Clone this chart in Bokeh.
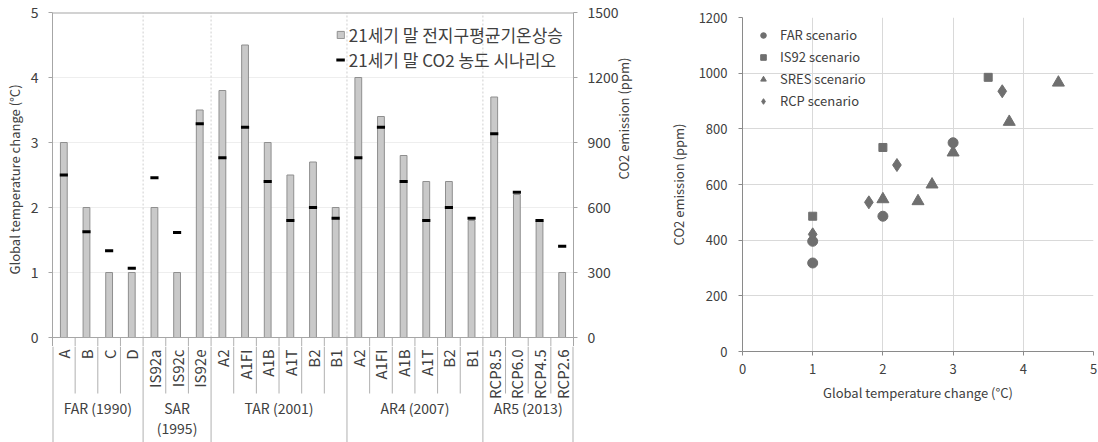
import math
from bokeh.plotting import figure
from bokeh.models import (FactorRange, Range1d, LinearAxis, FixedTicker, Legend,
                          LegendItem, Span, ColumnDataSource)
from bokeh.layouts import row, column
from bokeh.transform import dodge
from bokeh.core.properties import value
from bokeh.embed import file_html
from bokeh.resources import INLINE

# ---------------- data ----------------
group_keys = ["FAR", "SAR", "TAR", "AR4", "AR5"]
group_labels = ["FAR (1990)", "SAR\n(1995)", "TAR (2001)", "AR4 (2007)", "AR5 (2013)"]
scenarios = [
    ["A", "B", "C", "D"],
    ["IS92a", "IS92c", "IS92e"],
    ["A2", "A1FI", "A1B", "A1T", "B2", "B1"],
    ["A2", "A1FI", "A1B", "A1T", "B2", "B1"],
    ["RCP8.5", "RCP6.0", "RCP4.5", "RCP2.6"],
]
temp_rise = [
    [3.0, 2.0, 1.0, 1.0],
    [2.0, 1.0, 3.5],
    [3.8, 4.5, 3.0, 2.5, 2.7, 2.0],
    [4.0, 3.4, 2.8, 2.4, 2.4, 1.8],
    [3.7, 2.2, 1.8, 1.0],
]
co2_ppm = [
    [750, 488, 400, 320],
    [737, 485, 986],
    [830, 970, 720, 540, 600, 550],
    [830, 970, 720, 540, 600, 550],
    [940, 670, 540, 421],
]
legend_temp = "21세기 말 전지구평균기온상승"
legend_co2 = "21세기 말 CO2 농도 시나리오"
left_title = "Global temperature change (°C)"
right_title = "CO2 emission (ppm)"

temp_ticks = [0, 1, 2, 3, 4, 5]
co2_ticks = [0, 300, 600, 900, 1200, 1500]

far_temp = [1.0, 1.0, 2.0, 3.0]
far_co2 = [318, 396, 486, 750]
is92_temp = [1.0, 2.0, 3.5]
is92_co2 = [486, 733, 985]
sres_temp = [2.0, 2.5, 2.7, 3.0, 3.8, 4.5]
sres_co2 = [547, 540, 600, 715, 825, 966]
rcp_temp = [1.0, 1.8, 2.2, 3.7]
rcp_co2 = [421, 536, 670, 935]
scatter_x_ticks = [0, 1, 2, 3, 4, 5]
scatter_y_ticks = [0, 200, 400, 600, 800, 1000, 1200]

# ---------------- style ----------------
FONT = "Noto Sans CJK KR"
TEXT = "#404040"
AXIS = "#a6a6a6"
SEP = "#b0b0b0"


def no_align(p):
    try:
        p.frame_align = False
    except Exception:
        pass


# ---------------- left chart: bars ----------------
W1 = 660
BL, BR = 52, 87
TOP = 12
PX_PER_DEG = 65.0
OVER = 9            # px of the strip below 0 kept in the bar plot (room for the "0" labels)
H1_top = TOP + int(5 * PX_PER_DEG) + OVER
H1_bot = 442 - H1_top
y0_top = -OVER / PX_PER_DEG
CO2_PER_DEG = 300.0

factors = [(g, s) for g, ss in zip(group_keys, scenarios) for s in ss]
temps = [t for ts in temp_rise for t in ts]
co2s = [c for cs in co2_ppm for c in cs]
src = ColumnDataSource(dict(x=factors, temp=temps, co2=co2s))

xr = FactorRange(*factors, factor_padding=0, group_padding=0,
                 subgroup_padding=0, range_padding=0)
p1 = figure(width=W1, height=H1_top, x_range=xr, y_range=Range1d(y0_top, 5),
            x_axis_location=None, output_backend="svg", toolbar_location=None,
            min_border_left=BL, min_border_right=BR, min_border_top=TOP,
            min_border_bottom=0)
no_align(p1)
p1.outline_line_color = None
p1.xgrid.visible = False
p1.ygrid.ticker = FixedTicker(ticks=[1, 2, 3, 4])
p1.ygrid.grid_line_color = "#eeeeee"

ya = p1.yaxis[0]
ya.ticker = FixedTicker(ticks=temp_ticks)
ya.axis_label = left_title
p1.extra_y_ranges = {"co2": Range1d(y0_top * CO2_PER_DEG, 5 * CO2_PER_DEG)}
ra = LinearAxis(y_range_name="co2", ticker=FixedTicker(ticks=co2_ticks),
                axis_label=right_title)
p1.add_layout(ra, "right")
for ax in (ya, ra):
    ax.axis_line_color = AXIS
    ax.major_tick_line_color = AXIS
    ax.minor_tick_line_color = None
    ax.major_tick_out = 4
    ax.major_tick_in = 0
    ax.major_label_standoff = 10
    ax.major_label_text_font = FONT
    ax.major_label_text_font_size = "14px"
    ax.major_label_text_color = TEXT
    ax.axis_label_text_font = FONT
    ax.axis_label_text_font_size = "13px"
    ax.axis_label_text_font_style = "normal"
    ax.axis_label_text_color = TEXT
ya.axis_label_standoff = 4
ra.axis_label_standoff = 2
if "axis_label_orientation" in ra.properties():
    ra.axis_label_orientation = math.pi / 2

p1.add_layout(Span(location=5, dimension="width", line_color=AXIS, line_width=2))
p1.add_layout(Span(location=0, dimension="width", line_color=AXIS, line_width=1))

sizes = [len(s) for s in scenarios]
edges = [0]
for n in sizes:
    edges.append(edges[-1] + n)
inner = [i for i in range(1, edges[-1]) if i not in edges]
mid_edges = edges[1:-1]
p1.segment(x0=mid_edges, x1=mid_edges, y0=[0] * len(mid_edges), y1=[5] * len(mid_edges),
           line_color="#cfcfcf", line_width=1, line_dash="2 2")
# start of the category separators (continued in the strip below)
p1.segment(x0=inner + mid_edges, x1=inner + mid_edges,
           y0=[0] * (len(inner) + len(mid_edges)), y1=[y0_top] * (len(inner) + len(mid_edges)),
           line_color=SEP, line_width=1)

bars = p1.vbar(x="x", top="temp", width=0.3, source=src,
               fill_color="#c9c9c9", line_color="#8f8f8f", line_width=1)
marks = p1.segment(x0=dodge("x", -0.18, range=xr), x1=dodge("x", 0.18, range=xr),
                   y0="co2", y1="co2", line_color="black", line_width=3,
                   y_range_name="co2", source=src)

lg1 = Legend(items=[LegendItem(label=legend_temp, renderers=[bars]),
                    LegendItem(label=legend_co2, renderers=[marks])],
             location="top_right", margin=10, padding=0, spacing=-3,
             glyph_width=9, glyph_height=9, label_standoff=4, label_height=20,
             border_line_color=None, background_fill_alpha=0,
             label_text_font=FONT, label_text_font_size="17px",
             label_text_color=TEXT)
p1.add_layout(lg1)

# ---------------- left chart: category axis strip (units: px below the 0 line) ----------------
pb = figure(width=W1, height=H1_bot, x_range=xr, y_range=Range1d(-(OVER + H1_bot), -OVER),
            x_axis_location=None, y_axis_location=None,
            output_backend="svg", toolbar_location=None,
            min_border_left=BL, min_border_right=BR, min_border_top=0,
            min_border_bottom=0)
no_align(pb)
pb.outline_line_color = None
pb.grid.visible = False
bottom = -(OVER + H1_bot)
pb.segment(x0=inner, x1=inner, y0=[-OVER] * len(inner), y1=[-56] * len(inner),
           line_color=SEP, line_width=1)
pb.segment(x0=edges, x1=edges, y0=[-OVER] * len(edges), y1=[bottom] * len(edges),
           line_color=SEP, line_width=[2 if e in (0, edges[-1]) else 1 for e in edges])
pb.text(x=factors, y=[-12] * len(factors), text=[f[1] for f in factors],
        angle=math.pi / 2, text_align="right", text_baseline="middle",
        text_font=value(FONT), text_font_size="15px", text_color=TEXT)
pb.text(x=group_keys, y=[-60] * len(group_keys), text=group_labels,
        text_align="center", text_baseline="top", text_line_height=1.0,
        text_font=value(FONT), text_font_size="14px", text_color=TEXT)

# ---------------- right chart ----------------
W2, H2 = 438, 440
p2 = figure(width=W2, height=H2, x_range=Range1d(0, 5), y_range=Range1d(0, 1200),
            output_backend="svg", toolbar_location=None,
            min_border_left=82, min_border_right=5, min_border_top=17, min_border_bottom=89)
no_align(p2)
p2.outline_line_color = None
p2.xgrid.grid_line_color = "#d9d9d9"
p2.ygrid.grid_line_color = "#d9d9d9"
p2.xaxis.ticker = FixedTicker(ticks=scatter_x_ticks)
p2.yaxis.ticker = FixedTicker(ticks=scatter_y_ticks)
p2.xaxis.axis_label = "Global temperature change (°C)"
p2.yaxis.axis_label = "CO2 emission (ppm)"
for ax in (p2.xaxis[0], p2.yaxis[0]):
    ax.axis_line_color = "#8a8a8a"
    ax.major_tick_line_color = "#8a8a8a"
    ax.minor_tick_line_color = None
    ax.major_tick_out = 4
    ax.major_tick_in = 0
    ax.major_label_text_font = FONT
    ax.major_label_text_font_size = "13px"
    ax.major_label_text_color = TEXT
    ax.axis_label_text_font = FONT
    ax.axis_label_text_font_size = "13px"
    ax.axis_label_text_font_style = "normal"
    ax.axis_label_text_color = TEXT
p2.xaxis.major_label_standoff = 8
p2.xaxis.axis_label_standoff = 6
p2.yaxis.major_label_standoff = 11
p2.yaxis.axis_label_standoff = 8

MC = "#6f6f6f"
r_far = p2.scatter(far_temp, far_co2, marker="circle", size=10, color=MC)
r_is = p2.scatter(is92_temp, is92_co2, marker="square", size=8, color=MC)
r_sres = p2.scatter(sres_temp, sres_co2, marker="triangle", size=12, color=MC)
r_rcp = p2.scatter(rcp_temp, rcp_co2, marker="diamond", size=13, color=MC)

lg2 = Legend(items=[LegendItem(label="FAR scenario", renderers=[r_far]),
                    LegendItem(label="IS92 scenario", renderers=[r_is]),
                    LegendItem(label="SRES scenario", renderers=[r_sres]),
                    LegendItem(label="RCP scenario", renderers=[r_rcp])],
             location="top_left", margin=8, padding=3, spacing=3,
             glyph_width=26, glyph_height=14, label_standoff=4, label_height=14,
             border_line_color=None, background_fill_alpha=0,
             label_text_font=FONT, label_text_font_size="13px", label_text_color=TEXT)
p2.add_layout(lg2)

layout = row(column(p1, pb), p2)
open("out.html", "w").write(file_html(layout, INLINE))
